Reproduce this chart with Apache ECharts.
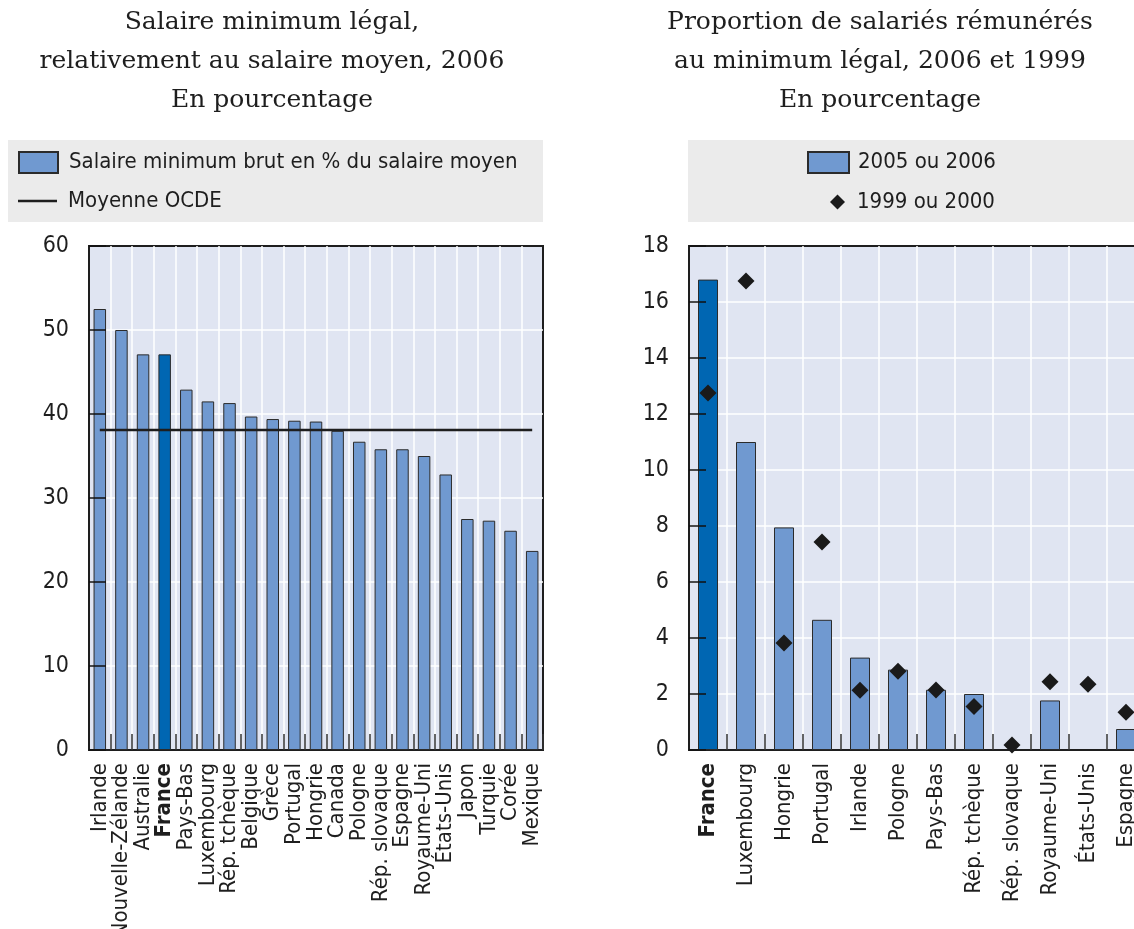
<!DOCTYPE html>
<html>
<head>
<meta charset="utf-8">
<script src="https://cdn.jsdelivr.net/npm/echarts@6/dist/echarts.min.js"></script>
<style>
html,body{margin:0;padding:0;background:#fff;}
#c{width:1134px;height:929px;}
</style>
</head>
<body>
<div id="c"></div>
<script>
// ---------- DATA ----------
const leftTitle = 'Salaire minimum légal,\nrelativement au salaire moyen, 2006\nEn pourcentage';
const rightTitle = 'Proportion de salariés rémunérés\nau minimum légal, 2006 et 1999\nEn pourcentage';

const leftCategories = ['Irlande','Nouvelle-Zélande','Australie','France','Pays-Bas','Luxembourg','Rép. tchèque','Belgique','Grèce','Portugal','Hongrie','Canada','Pologne','Rép. slovaque','Espagne','Royaume-Uni','États-Unis','Japon','Turquie','Corée','Mexique'];
const leftValues = [52.5,50.0,47.1,47.1,42.9,41.5,41.3,39.7,39.4,39.2,39.1,38.0,36.7,35.8,35.8,35.0,32.8,27.5,27.3,26.1,23.7];
const oecdAverage = 38.1;
const leftSeriesName = 'Salaire minimum brut en % du salaire moyen';
const oecdSeriesName = 'Moyenne OCDE';
const leftYTicks = [0,10,20,30,40,50,60];

const rightCategories = ['France','Luxembourg','Hongrie','Portugal','Irlande','Pologne','Pays-Bas','Rép. tchèque','Rép. slovaque','Royaume-Uni','États-Unis','Espagne'];
const rightBars = [16.8,11.0,7.95,4.65,3.3,2.87,2.15,2.0,null,1.77,null,0.75];
const rightDiamonds = [12.75,16.75,3.82,7.43,2.13,2.81,2.14,1.55,0.18,2.44,2.35,1.35];
const rightBarName = '2005 ou 2006';
const rightDiamondName = '1999 ou 2000';
const rightYTicks = [0,2,4,6,8,10,12,14,16,18];

const highlighted = 'France';

// ---------- STYLE ----------
const NARROW = "'Liberation Sans Narrow','Arial Narrow','DejaVu Sans Condensed',sans-serif";
const SERIF = "'DejaVu Serif',serif";
const BAR = '#7099d0';
const BAR_HI = '#0066b2';
const PLOT_BG = '#e0e5f2';
const INK = '#1e1e1e';
const W = 1134, H = 929;
const LABEL_SIZE = 22;
const TICK_SIZE = 23;

const grids = [
  {left:89, right:W-543, top:246, bottom:H-750},
  {left:689, right:W-1145, top:246, bottom:H-750}
];

function axisRange(ticks){ return {min:ticks[0], max:ticks[ticks.length-1], interval:ticks[1]-ticks[0]}; }

function catAxis(gi, data){
  return {
    gridIndex:gi, type:'category', data:data, position:'bottom', z:-1,
    axisLine:{show:true, lineStyle:{color:INK, width:2}},
    axisTick:{show:true, inside:true, length:16, interval:0, lineStyle:{color:'#333', width:1.5}},
    axisLabel:{interval:0, rotate:90, margin:13, fontSize:LABEL_SIZE, fontFamily:NARROW, color:INK,
      formatter:function(v){ return v===highlighted ? '{b|'+v+'}' : v; },
      rich:{b:{fontWeight:'bold', fontSize:LABEL_SIZE, fontFamily:NARROW, color:INK}}},
    splitLine:{show:true, interval:0, showMinLine:false, showMaxLine:false, lineStyle:{color:'#ffffff', width:1.5}}
  };
}
// single value axis per grid: labels + inside ticks drawn above the bars
function valAxis(gi, ticks){
  return Object.assign({gridIndex:gi, type:'value', position:'left', z:5,
    axisLine:{show:true, lineStyle:{color:INK, width:2}},
    axisTick:{show:true, inside:true, length:17, lineStyle:{color:'#111111', width:1.5}},
    axisLabel:{margin:20, fontSize:TICK_SIZE, fontFamily:NARROW, color:INK},
    splitLine:{show:false}}, axisRange(ticks));
}
// white horizontal grid lines at the inner tick values, drawn below the bars
function gridLineSeries(xi, yi, ticks){
  return {type:'line', xAxisIndex:xi, yAxisIndex:yi, data:[], z:1, silent:true,
    markLine:{silent:true, z:1, animation:false, symbol:['none','none'], label:{show:false},
      lineStyle:{color:'#ffffff', width:1.5, type:'solid'},
      emphasis:{disabled:true},
      data:ticks.slice(1, -1).map(function(v){ return {yAxis:v}; })}};
}

function barData(cats, vals){
  return vals.map(function(v,i){
    return cats[i]===highlighted ? {value:v, itemStyle:{color:BAR_HI}} : v;
  });
}

const chart = echarts.init(document.getElementById('c'), null, {renderer:'canvas', width:W, height:H});

const legendText = {fontSize:LABEL_SIZE, fontFamily:NARROW, color:INK};

const option = {
  animation:false,
  backgroundColor:'#ffffff',
  graphic:[
    {type:'rect', z:0, shape:{x:8, y:140, width:535, height:82}, style:{fill:'#ebebeb'}},
    {type:'rect', z:0, shape:{x:688, y:140, width:470, height:82}, style:{fill:'#ebebeb'}},
    {type:'text', z:1, x:272, y:3, style:{text:leftTitle, align:'center', verticalAlign:'top', fontSize:25, lineHeight:39, fontFamily:SERIF, fill:INK}},
    {type:'text', z:1, x:880, y:3, style:{text:rightTitle, align:'center', verticalAlign:'top', fontSize:25, lineHeight:39, fontFamily:SERIF, fill:INK}}
  ],
  legend:[
    {data:[leftSeriesName], left:18, top:151, padding:0, icon:'rect', itemWidth:39, itemHeight:21,
      textStyle:Object.assign({padding:[0,0,0,6]}, legendText), selectedMode:false},
    {data:[oecdSeriesName], left:18, top:190, padding:0, icon:'rect', itemWidth:39, itemHeight:2.5,
      itemStyle:{color:INK, borderWidth:0},
      textStyle:Object.assign({padding:[0,0,0,6]}, legendText), selectedMode:false},
    {data:[rightBarName], left:807, top:151, padding:0, icon:'rect', itemWidth:41, itemHeight:21,
      textStyle:Object.assign({padding:[0,0,0,4]}, legendText), selectedMode:false},
    {data:[rightDiamondName], left:830, top:191, padding:0, icon:'diamond', itemWidth:15, itemHeight:15,
      itemStyle:{color:'#1a1a1a', opacity:1},
      textStyle:Object.assign({padding:[0,0,0,7]}, legendText), selectedMode:false}
  ],
  grid:grids.map(function(g){
    return Object.assign({show:true, z:-2, backgroundColor:PLOT_BG, borderColor:INK, borderWidth:2, containLabel:false, outerBoundsMode:'none'}, g);
  }),
  xAxis:[
    catAxis(0, leftCategories),
    catAxis(1, rightCategories)
  ],
  yAxis:[
    valAxis(0, leftYTicks),
    valAxis(1, rightYTicks)
  ],
  series:[
    gridLineSeries(0, 0, leftYTicks),
    gridLineSeries(1, 1, rightYTicks),
    {name:leftSeriesName, type:'bar', xAxisIndex:0, yAxisIndex:0, barWidth:12.5,
      data:barData(leftCategories, leftValues),
      itemStyle:{color:BAR, borderColor:'#2b2b2b', borderWidth:1}, z:2},
    {name:oecdSeriesName, type:'line', xAxisIndex:0, yAxisIndex:0,
      data:leftCategories.map(function(){ return oecdAverage; }),
      symbol:'none', lineStyle:{color:INK, width:2.5}, itemStyle:{color:INK}, z:4},
    {name:rightBarName, type:'bar', xAxisIndex:1, yAxisIndex:1, barWidth:20,
      data:barData(rightCategories, rightBars),
      itemStyle:{color:BAR, borderColor:'#2b2b2b', borderWidth:1}, z:2},
    {name:rightDiamondName, type:'scatter', xAxisIndex:1, yAxisIndex:1,
      data:rightDiamonds, symbol:'diamond', symbolSize:17, clip:false,
      itemStyle:{color:'#1a1a1a', opacity:1}, z:6}
  ]
};
chart.setOption(option);
</script>
</body>
</html>
